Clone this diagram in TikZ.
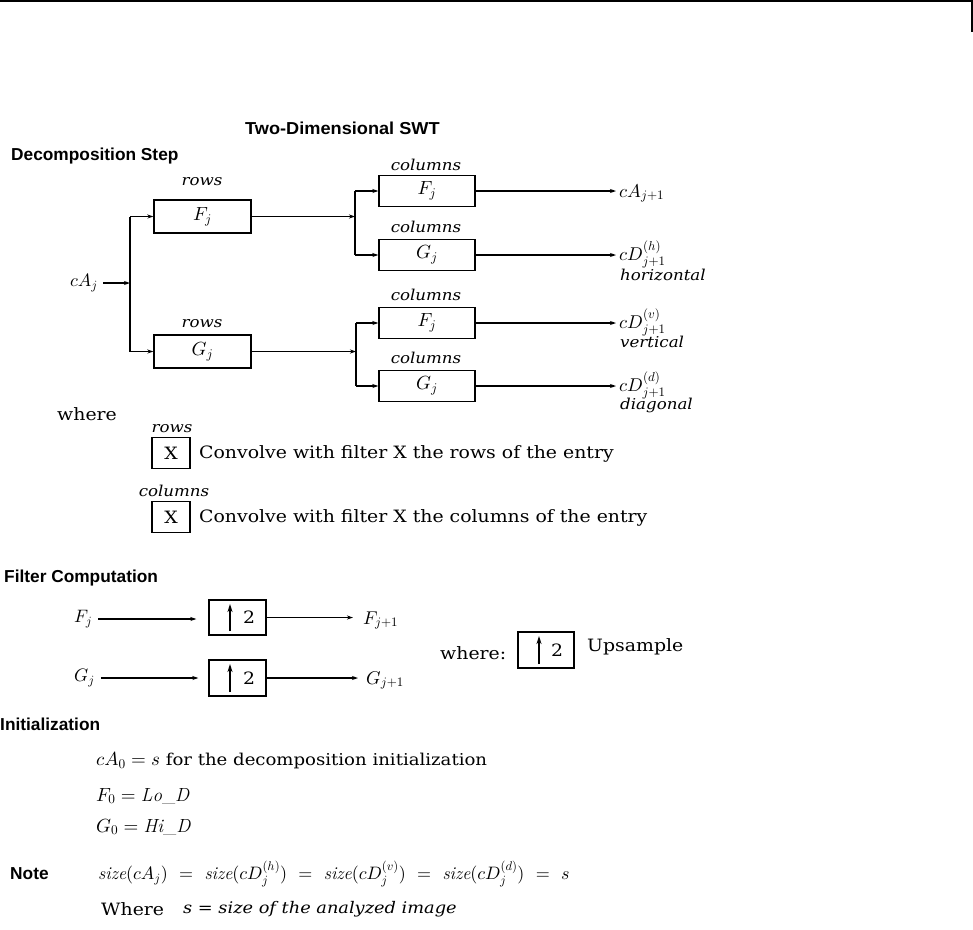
\documentclass[tikz,border=0pt]{standalone}
\usepackage{fontspec}
\usetikzlibrary{arrows.meta}
\DeclareFontShape{OML}{cmm}{m}{it}{<->cmmi10}{}
\DeclareFontShape{OMS}{cmsy}{m}{n}{<->cmsy10}{}
\DeclareFontShape{OT1}{cmr}{m}{n}{<->cmr10}{}
\DeclareFontShape{OT1}{cmr}{m}{it}{<->cmti10}{}
\DeclareFontShape{OMX}{cmex}{m}{n}{<->cmex10}{}
\newfontfamily\hdfont{Liberation Sans}
\newfontfamily\ttlfont[FakeStretch=1.05]{Liberation Sans}
\newfontfamily\srfont[FakeStretch=1.11]{DejaVu Serif}
\tikzset{
  hdtext/.style={font=\hdfont\bfseries\fontsize{17.3}{20}\selectfont, anchor=west, inner sep=0pt},
  rmtext/.style={font=\srfont\fontsize{17}{20}\selectfont, anchor=west, inner sep=0pt},
  ittext/.style={font=\srfont\itshape\fontsize{15}{18}\selectfont, inner sep=0pt},
  mtext/.style={font=\fontsize{18}{21}\selectfont, inner sep=0pt},
  outtext/.style={font=\fontsize{18.5}{22}\selectfont, inner sep=0pt, anchor=base west},
  rowbox/.style={draw, line width=1.4pt, minimum width=97pt, minimum height=33pt, inner sep=0pt, font=\fontsize{19}{22}\selectfont},
  colbox/.style={rowbox, minimum width=96pt, minimum height=31pt},
  xbox/.style={draw, line width=1.4pt, minimum width=38pt, minimum height=31pt, inner sep=0pt, font=\srfont\fontsize{17}{20}\selectfont},
  upbox/.style={draw, line width=1.4pt, minimum width=57pt, minimum height=35pt, inner sep=0pt},
  arrw/.style={-{Stealth[length=6pt,width=4pt]}, line width=1.2pt},
  uparrw/.style={-{Stealth[length=8pt,width=5pt]}, line width=1.6pt},
  wire/.style={line width=1.2pt},
}
\begin{document}
\begin{tikzpicture}[x=1pt,y=-1pt]
\useasboundingbox (0,0) rectangle (973,929);
\draw[line width=1.5pt] (0,0.75) -- (972,0.75) -- (972,32);

% title and heading
\node[hdtext, font=\ttlfont\bfseries\fontsize{17.3}{20}\selectfont] (title) at (245,128) {Two-Dimensional SWT};
\node[hdtext] (hdec) at (11,156) {Decomposition Step};

% decomposition step
\node[mtext, anchor=east] (cAj) at (98,283) {$cA_j$};
\coordinate (sp1) at (130,283);
\coordinate (sp1t) at (130,216.5);
\coordinate (sp1b) at (130,351.5);
\node[rowbox] (rF) at (202.5,216.5) {$F_j$};
\node[rowbox] (rG) at (202.5,351.5) {$G_j$};
\node[ittext] (lrF) at (202,182) {rows};
\node[ittext] (lrG) at (202,324) {rows};
\draw[arrw, shorten <=5pt] (cAj.east) -- (sp1);
\draw[wire] (sp1t) -- (sp1b);
\draw[arrw] (sp1t) -- (rF.west);
\draw[arrw] (sp1b) -- (rG.west);

\node[colbox] (c1) at (427,191) {$F_j$};
\node[colbox] (c2) at (427,255) {$G_j$};
\node[colbox] (c3) at (427,323) {$F_j$};
\node[colbox] (c4) at (427,386) {$G_j$};
\node[ittext] (lc1) at (426,165) {columns};
\node[ittext] (lc2) at (426,227) {columns};
\node[ittext] (lc3) at (426,295) {columns};
\node[ittext] (lc4) at (426,358) {columns};

\coordinate (sp2) at (355,216.5);
\coordinate (sp2t) at (355,191);
\coordinate (sp2b) at (355,255);
\coordinate (sp3) at (356,351.5);
\coordinate (sp3t) at (356,323);
\coordinate (sp3b) at (356,386);
\draw[arrw] (rF.east) -- (sp2);
\draw[arrw] (rG.east) -- (sp3);
\draw[wire] (sp2t) -- (sp2b);
\draw[wire] (sp3t) -- (sp3b);
\draw[arrw] (sp2t) -- (c1.west);
\draw[arrw] (sp2b) -- (c2.west);
\draw[arrw] (sp3t) -- (c3.west);
\draw[arrw] (sp3b) -- (c4.west);

\node[outtext] (o1) at (619,197) {$cA_{j+1}$};
\node[outtext] (o2) at (619,260) {$cD^{(h)}_{j+1}$};
\node[outtext] (o3) at (619,328) {$cD^{(v)}_{j+1}$};
\node[outtext] (o4) at (619,391) {$cD^{(d)}_{j+1}$};
\node[ittext, anchor=base west] (o2t) at (620,280) {horizontal};
\node[ittext, anchor=base west] (o3t) at (620,347) {vertical};
\node[ittext, anchor=base west] (o4t) at (620,409) {diagonal};
\draw[arrw, shorten >=3pt] (c1.east) -- (c1.east -| o1.west);
\draw[arrw, shorten >=3pt] (c2.east) -- (c2.east -| o2.west);
\draw[arrw, shorten >=3pt] (c3.east) -- (c3.east -| o3.west);
\draw[arrw, shorten >=3pt] (c4.east) -- (c4.east -| o4.west);

% legend
\node[rmtext] (where) at (57,414) {where};
\node[ittext] (lxr) at (172,429) {rows};
\node[xbox] (xr) at (171,453) {X};
\node[rmtext] (txr) at (199,454) {Convolve with filter X the rows of the entry};
\node[ittext] (lxc) at (174,491) {columns};
\node[xbox] (xc) at (171,517) {X};
\node[rmtext] (txc) at (199,518) {Convolve with filter X the columns of the entry};

% filter computation
\node[hdtext] (hfil) at (4,578) {Filter Computation};
\node[mtext, anchor=west] (Fj) at (74,619) {$F_j$};
\node[mtext, anchor=west] (Gj) at (74,678) {$G_j$};
\node[upbox] (up1) at (237.5,617.5) {};
\node[upbox, minimum height=36pt] (up2) at (237.5,678) {};
\node[outtext] (Fj1) at (363,624) {$F_{j+1}$};
\node[outtext] (Gj1) at (366,684) {$G_{j+1}$};
\draw[arrw, shorten <=6pt, shorten >=12pt] (Fj.east) -- (up1.west |- Fj.east);
\draw[arrw, shorten <=6pt, shorten >=10pt] (Gj.east) -- (up2.west |- Gj.east);
\draw[arrw, shorten >=10pt] (up1.east) -- (up1.east -| Fj1.west);
\draw[arrw, shorten >=8pt] (up2.east) -- (up2.east -| Gj1.west);
\draw[uparrw] (230,631) -- (230,604);
\node[rmtext, anchor=center] (two1) at (249,617.5) {2};
\draw[uparrw] (230,692) -- (230,664);
\node[rmtext, anchor=center] (two2) at (249,678) {2};

\node[rmtext] (wherec) at (440,653) {where:};
\node[upbox, minimum width=56pt, minimum height=36pt] (wup) at (546,650) {};
\draw[uparrw] (539,664) -- (539,636);
\node[rmtext, anchor=center] (two3) at (557,650) {2};
\node[rmtext] (ups) at (587,647) {Upsample};

% initialization
\node[hdtext] (hini) at (0,724) {Initialization};
\node[rmtext] (i1) at (96,761) {\fontsize{19}{22}\selectfont$cA_0 = s$\fontsize{16.3}{20}\selectfont{} for the decomposition initialization};
\node[rmtext, font=\fontsize{19}{22}\selectfont] (i2) at (96,796) {$F_0 = \mathit{Lo\_D}$};
\node[rmtext, font=\fontsize{19}{22}\selectfont] (i3) at (96,827) {$G_0 = \mathit{Hi\_D}$};

% note
\node[hdtext] (hnote) at (10,874) {Note};
\node[rmtext, font=\srfont\fontsize{18}{21}\selectfont] (n1) at (98,874) {$\mathit{size}(cA_j)\ =\ \mathit{size}(cD_j^{(h)})\ =\ \mathit{size}(cD_j^{(v)})\ =\ \mathit{size}(cD_j^{(d)})\ =\ s$};
\node[rmtext] (n2) at (101,909) {Where};
\node[rmtext, font=\srfont\itshape\fontsize{16}{19}\selectfont] (n3) at (183,909) {s = size of the analyzed image};
\end{tikzpicture}
\end{document}
